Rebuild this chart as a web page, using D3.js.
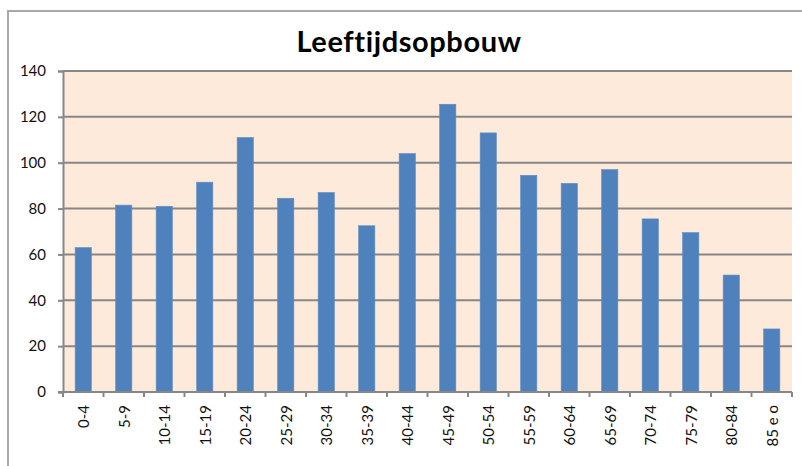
<!DOCTYPE html>
<html>
<head>
<meta charset="utf-8">
<script src="https://cdn.jsdelivr.net/npm/d3@7/dist/d3.min.js"></script>
<style>
  body { margin: 0; background: #fff; }
  svg { display: block; }
</style>
</head>
<body>
<div id="chart"></div>
<script>
var categories = ["0-4", "5-9", "10-14", "15-19", "20-24", "25-29", "30-34", "35-39", "40-44",
    "45-49", "50-54", "55-59", "60-64", "65-69", "70-74", "75-79", "80-84", "85 e o"];
var values = [63, 81.5, 81, 91.5, 111, 84.5, 87, 72.5, 104,
    125.5, 113, 94.5, 91, 97, 75.5, 69.5, 51, 27.5];
var yTicks = [0, 20, 40, 60, 80, 100, 120, 140];
var title = "Leeftijdsopbouw";

var width = 802, height = 466;
var margin = { top: 71, right: 10, bottom: 74, left: 63 };
var graphWidth = width - margin.left - margin.right;
var graphHeight = height - margin.top - margin.bottom;
var font = "Lato, 'Open Sans', sans-serif";

var svg = d3.select("#chart")
    .append("svg")
    .attr("width", width)
    .attr("height", height);

// outer chart border (runs off to the right and bottom)
svg.append("rect")
    .attr("x", 8)
    .attr("y", 11)
    .attr("width", width + 20)
    .attr("height", height + 20)
    .attr("fill", "#fff")
    .attr("stroke", "#a8a8a8")
    .attr("stroke-width", 2);

svg.append("text")
    .attr("x", 409)
    .attr("y", 52)
    .attr("text-anchor", "middle")
    .style("font-family", font)
    .style("font-weight", "bold")
    .style("font-size", "29px")
    .style("letter-spacing", "0.6px")
    .style("fill", "#000")
    .text(title);

var g = svg.append("g")
    .attr("transform", `translate(${margin.left},${margin.top})`);

var xScale = d3.scaleBand()
    .domain(categories)
    .range([0, graphWidth])
    .paddingInner(0.6)
    .paddingOuter(0.3);

var yScale = d3.scaleLinear()
    .domain([0, 140])
    .range([graphHeight, 0]);

g.append("rect")
    .attr("width", graphWidth)
    .attr("height", graphHeight)
    .attr("fill", "#fdeada");

// gridlines
g.selectAll(".grid")
    .data(yTicks.filter(d => d > 0))
    .join("line")
    .attr("class", "grid")
    .attr("x1", 0)
    .attr("x2", graphWidth)
    .attr("y1", d => yScale(d))
    .attr("y2", d => yScale(d))
    .attr("stroke", "#878787")
    .attr("stroke-width", 2);

g.selectAll(".bar")
    .data(values)
    .join("rect")
    .attr("class", "bar")
    .attr("x", (d, i) => xScale(categories[i]))
    .attr("y", d => yScale(d))
    .attr("width", xScale.bandwidth())
    .attr("height", d => graphHeight - yScale(d))
    .attr("fill", "#4f81bd")
    .attr("stroke", "#5d8cc4")
    .attr("stroke-width", 0.6);

// y axis
var yAxis = g.append("g")
    .call(d3.axisLeft(yScale).tickValues(yTicks).tickSize(5).tickPadding(12));
yAxis.select(".domain").attr("stroke", "#878787").attr("stroke-width", 2);
yAxis.selectAll(".tick line").attr("stroke", "#878787").attr("stroke-width", 2);
yAxis.selectAll("text")
    .style("font-family", font)
    .style("font-size", "15px")
    .style("fill", "#111");

// x axis
var step = xScale.step();
var x0 = xScale(categories[0]) - xScale.paddingOuter() * step;
var xAxis = g.append("g")
    .attr("transform", `translate(0,${graphHeight})`);
xAxis.append("line")
    .attr("x1", -5)
    .attr("x2", graphWidth)
    .attr("stroke", "#878787")
    .attr("stroke-width", 2);
xAxis.selectAll(".xtick")
    .data(d3.range(categories.length + 1))
    .join("line")
    .attr("class", "xtick")
    .attr("x1", i => x0 + i * step)
    .attr("x2", i => x0 + i * step)
    .attr("y1", 0)
    .attr("y2", 5)
    .attr("stroke", "#878787")
    .attr("stroke-width", 2);
xAxis.selectAll(".xlabel")
    .data(categories)
    .join("text")
    .attr("class", "xlabel")
    .attr("transform", d => `translate(${xScale(d) + xScale.bandwidth() / 2 + 6},13) rotate(-90)`)
    .attr("text-anchor", "end")
    .style("font-family", font)
    .style("font-size", "15px")
    .style("fill", "#111")
    .text(d => d);
</script>
</body>
</html>
